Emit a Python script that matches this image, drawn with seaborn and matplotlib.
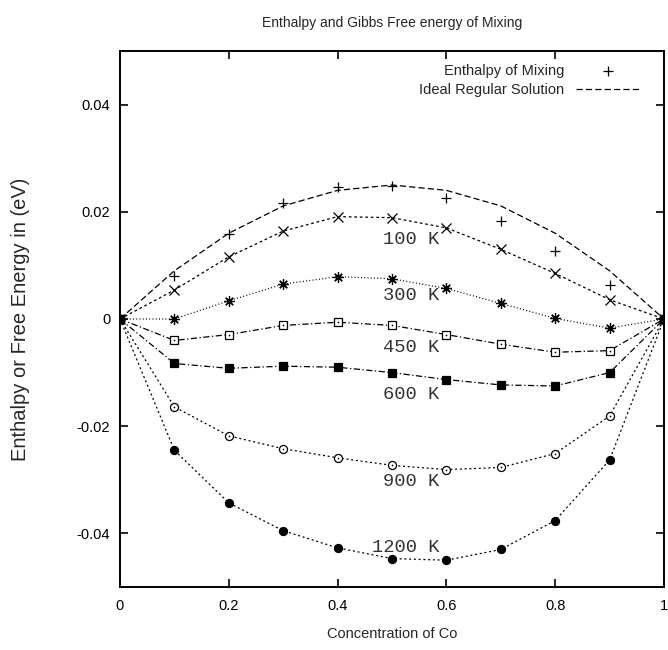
import numpy as np
import pandas as pd
import seaborn as sns
from matplotlib import pyplot as plt
from matplotlib.ticker import FuncFormatter

# concentration of Co
conc = [0.0, 0.1, 0.2, 0.3, 0.4, 0.5, 0.6, 0.7, 0.8, 0.9, 1.0]

# enthalpy of mixing (points only) and ideal regular solution curve
enthalpy = [0.0, 0.0080, 0.0159, 0.0216, 0.0247, 0.0249, 0.0226, 0.0182, 0.0127, 0.0063, 0.0]
ideal = [0.0, 0.0090, 0.0160, 0.0211, 0.0240, 0.0250, 0.0240, 0.0211, 0.0160, 0.0090, 0.0]

# gibbs free energy of mixing at each temperature
g_100 = [0.0, 0.0054, 0.0116, 0.0164, 0.0191, 0.0189, 0.0170, 0.0130, 0.0085, 0.0036, 0.0]
g_300 = [0.0, 0.0000, 0.0034, 0.0065, 0.0079, 0.0075, 0.0057, 0.0029, 0.0001, -0.0017, 0.0]
g_450 = [0.0, -0.0040, -0.0029, -0.0012, -0.0006, -0.0012, -0.0029, -0.0047, -0.0062, -0.0059, 0.0]
g_600 = [0.0, -0.0083, -0.0092, -0.0088, -0.0090, -0.0100, -0.0113, -0.0123, -0.0125, -0.0100, 0.0]
g_900 = [0.0, -0.0164, -0.0218, -0.0242, -0.0259, -0.0273, -0.0281, -0.0277, -0.0251, -0.0181, 0.0]
g_1200 = [0.0, -0.0245, -0.0343, -0.0395, -0.0427, -0.0447, -0.0450, -0.0430, -0.0376, -0.0263, 0.0]

temp_labels = ["100 K", "300 K", "450 K", "600 K", "900 K", "1200 K"]

sns.set_style("ticks")
plt.rcParams['font.family'] = ['Liberation Sans', 'DejaVu Sans']

fig = plt.figure(figsize=(6.68, 6.5), dpi=100)
ax = fig.add_axes([120 / 668, 1 - 587 / 650, 544 / 668, 536 / 650])

# ideal regular solution
sns.lineplot(x=conc, y=ideal, ax=ax, color="black", lw=0.9,
             label="Ideal Regular Solution", legend=False)
ax.lines[-1].set_dashes((5, 2.5))

# (values, marker, face, dashes)
styles = [
    (g_100, "x", "black", (2.2, 2.2)),
    (g_300, (8, 2, 0), "black", (0.8, 1.8)),
    (g_450, "s", "white", (5, 2, 1, 2)),
    (g_900, "o", "white", (1.6, 2.2)),
    (g_1200, "o", "black", (1.6, 2.2)),
    (g_600, "s", "black", (5, 2, 1, 2)),
]
for vals, mk, face, dash in styles:
    ms = 7.5 if mk in ((8, 2, 0), "x") else 5.8
    sns.lineplot(x=conc, y=vals, ax=ax, color="black", lw=0.9, legend=False)
    ln = ax.lines[-1]
    ln.set_dashes(dash)
    ln.set_marker(mk)
    ln.set_markersize(ms)
    ln.set_markerfacecolor(face)
    ln.set_markeredgecolor("black")
    ln.set_markeredgewidth(0.9)
    if face == "white":
        # gnuplot leaves a dot in the middle of open points
        sns.scatterplot(x=conc, y=vals, ax=ax, color="black", s=1.5,
                        linewidth=0, legend=False, zorder=5)

# enthalpy points
sns.scatterplot(x=conc, y=enthalpy, ax=ax, marker="+", color="black", s=50,
                linewidth=0.9, label="Enthalpy of Mixing", legend=False)

# temperature labels
label_pos = [(0.483, 0.0148), (0.483, 0.0043), (0.483, -0.0054),
             (0.483, -0.0140), (0.483, -0.0303), (0.463, -0.0426)]
for (lx, ly), txt in zip(label_pos, temp_labels):
    ax.text(lx, ly, txt, family=['Liberation Mono', 'DejaVu Sans Mono'], fontsize=13.5,
            color="#333333", va="center", ha="left")

ax.set_xlim(0, 1)
ax.set_ylim(-0.05, 0.05)
ax.set_xticks([0, 0.2, 0.4, 0.6, 0.8, 1.0])
ax.set_yticks([-0.04, -0.02, 0, 0.02, 0.04])
fmt = FuncFormatter(lambda v, p: "%g" % round(v, 4))
ax.xaxis.set_major_formatter(fmt)
ax.yaxis.set_major_formatter(fmt)
ax.tick_params(direction="in", length=6, width=1.2, top=True, right=True,
               labelsize=10.5, colors="black")
ax.tick_params(axis="x", pad=9)
ax.tick_params(axis="y", pad=7)
for sp in ax.spines.values():
    sp.set_linewidth(1.4)
    sp.set_color("black")

ax.set_xlabel("Concentration of Co", fontsize=10.5, labelpad=10)
ax.set_ylabel("Enthalpy or Free Energy in (eV)", fontsize=14.5, labelpad=34)
ax.set_title("Enthalpy and Gibbs Free energy of Mixing", fontsize=10, pad=17)

h, l = ax.get_legend_handles_labels()
order = [l.index("Enthalpy of Mixing"), l.index("Ideal Regular Solution")]
ax.legend([h[i] for i in order], [l[i] for i in order], loc="upper right",
          markerfirst=False, frameon=False, fontsize=10.5, handlelength=4.4,
          labelspacing=0.35, borderaxespad=0.3, bbox_to_anchor=(0.975, 0.995))

fig.savefig("out.png", dpi=100)
